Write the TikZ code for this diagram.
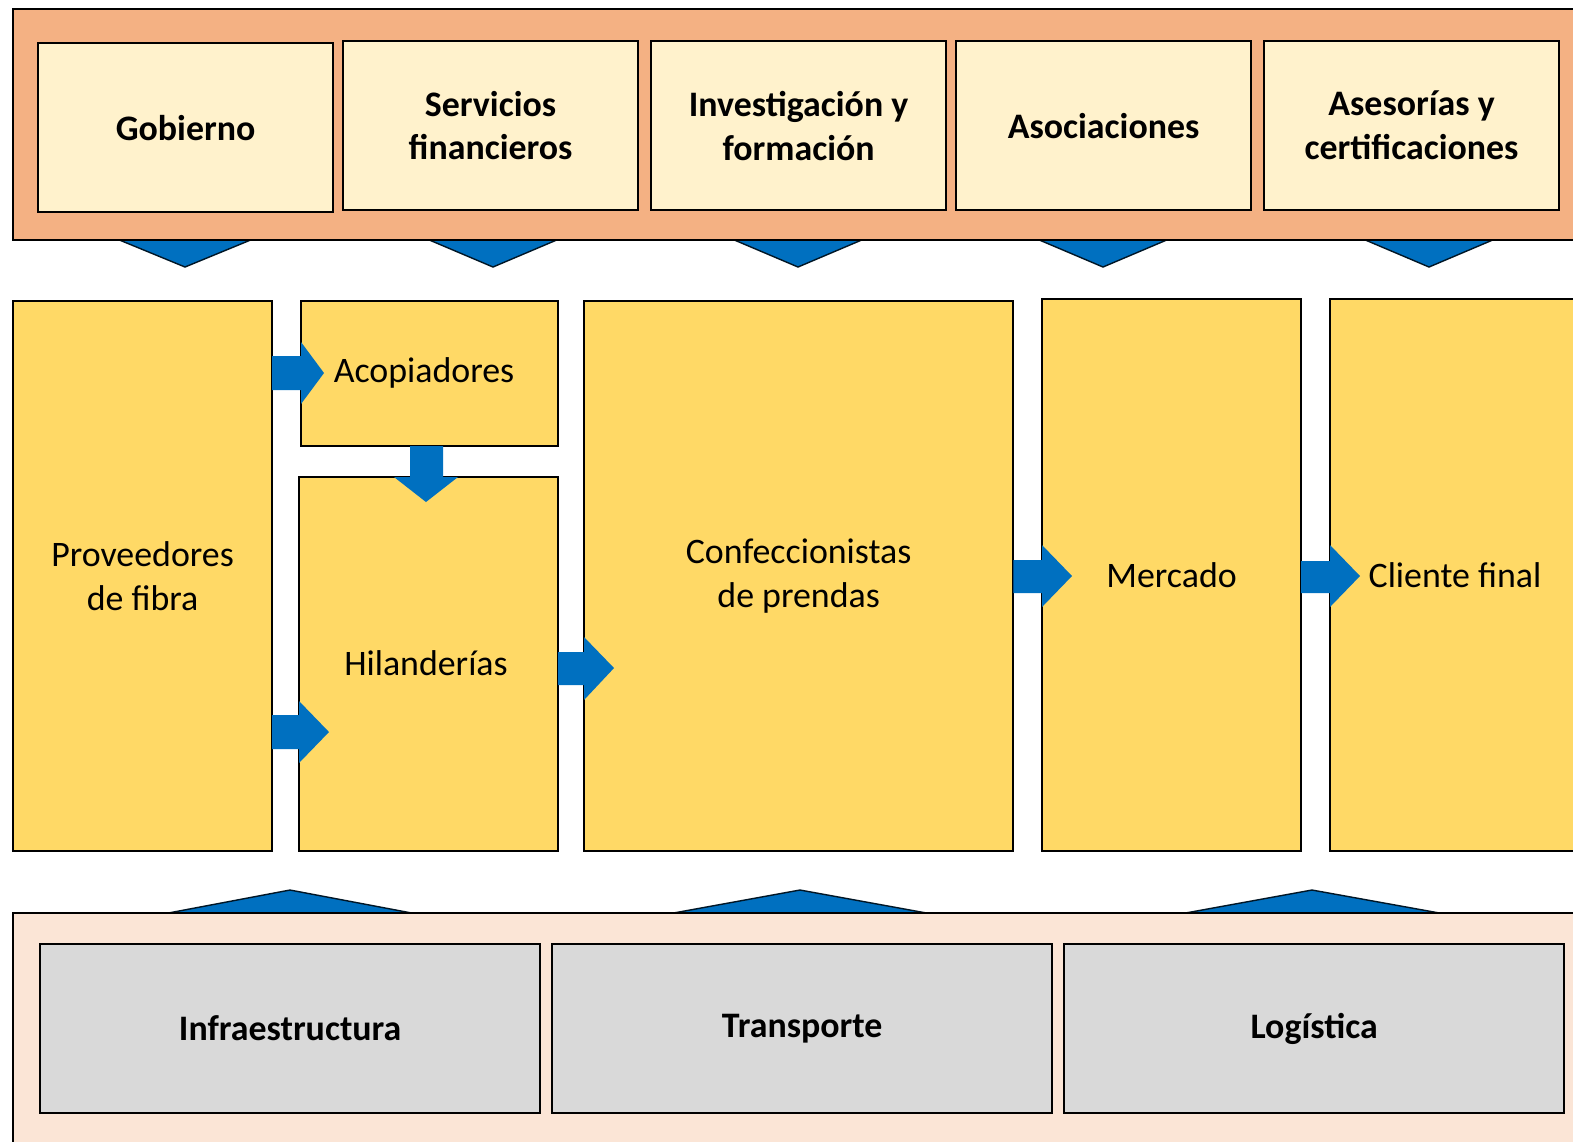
\documentclass[tikz,border=0pt]{standalone}
\usepackage{fontspec}
\setmainfont{Carlito}
\definecolor{bandtop}{HTML}{F4B183}
\definecolor{bandbot}{HTML}{FBE5D6}
\definecolor{topbox}{HTML}{FFF2CC}
\definecolor{midbox}{HTML}{FFD966}
\definecolor{botbox}{HTML}{D9D9D9}
\definecolor{arrblue}{HTML}{0070C0}
\begin{document}
\begin{tikzpicture}[x=0.01cm,y=-0.01cm,
  every node/.style={inner sep=0pt,outer sep=0pt,font=\fontsize{10.2}{12.5}\selectfont,align=center},
  bx/.style={draw=black,line width=0.6pt},
  band/.style={draw=black,line width=0.6pt},
  arr/.style={fill=arrblue},
  tri/.style={fill=arrblue,draw=black!80!arrblue,line width=0.4pt}]
\clip (0,0) rectangle (1573,1141);
\fill[white] (0,0) rectangle (1573,1141);
% top triangles (drawn under band)
\foreach \c/\l/\r in {185/117/253, 493/427/559, 798/732/864, 1103/1037/1169, 1429/1363/1495}
  \draw[tri] (\l,239) -- (\r,239) -- (\c,267) -- cycle;
% bottom triangles
\foreach \c/\l/\r in {290/163/417, 800/668/932, 1312/1180/1445}
  \draw[tri] (\l,914) -- (\c,890) -- (\r,914) -- cycle;
% bands
\node[band,fill=bandtop,minimum width=15.80cm,minimum height=2.31cm,anchor=north west] (topband) at (13,9) {};
\node[band,fill=bandbot,minimum width=15.80cm,minimum height=2.60cm,anchor=north west] (botband) at (13,913) {};
% top boxes
\node[bx,fill=topbox,minimum width=2.95cm,minimum height=1.69cm,anchor=north west] (gob) at (38,43) {\bfseries Gobierno};
\node[bx,fill=topbox,minimum width=2.95cm,minimum height=1.69cm,anchor=north west] (serv) at (343,41) {\bfseries Servicios\\\bfseries financieros};
\node[bx,fill=topbox,minimum width=2.95cm,minimum height=1.69cm,anchor=north west] (inv) at (651,41) {\bfseries Investigación y\\\bfseries formación};
\node[bx,fill=topbox,minimum width=2.95cm,minimum height=1.69cm,anchor=north west] (asoc) at (956,41) {\bfseries Asociaciones};
\node[bx,fill=topbox,minimum width=2.95cm,minimum height=1.69cm,anchor=north west] (ases) at (1264,41) {\bfseries Asesorías y\\\bfseries certificaciones};
% middle boxes
\node[bx,fill=midbox,minimum width=2.59cm,minimum height=5.50cm,anchor=north west] (prov) at (13,301) {Proveedores\\de fibra};
\node[bx,fill=midbox,minimum width=2.57cm,minimum height=1.45cm,anchor=north west] (acop) at (301,301) {};
\node at (424,373) {Acopiadores};
\node[bx,fill=midbox,minimum width=2.59cm,minimum height=3.74cm,anchor=north west] (hil) at (299,477) {};
\node at (426,663) {Hilanderías};
\node[bx,fill=midbox,minimum width=4.29cm,minimum height=5.50cm,anchor=north west] (conf) at (584,301) {Confeccionistas\\de prendas};
\node[bx,fill=midbox,minimum width=2.59cm,minimum height=5.52cm,anchor=north west] (merc) at (1042,299) {Mercado};
\node[bx,fill=midbox,minimum width=2.60cm,minimum height=5.52cm,anchor=north west] (cli) at (1330,299) {};
\node at (1455,575) {Cliente final};
% bottom boxes
\node[bx,fill=botbox,minimum width=5.00cm,minimum height=1.69cm,anchor=north west] (infra) at (40,944) {\bfseries Infraestructura};
\node[bx,fill=botbox,minimum width=5.00cm,minimum height=1.69cm,anchor=north west] (trans) at (552,944) {\bfseries Transporte};
\node[bx,fill=botbox,minimum width=5.00cm,minimum height=1.69cm,anchor=north west] (log) at (1064,944) {\bfseries Logística};
% block arrows
% prov -> acop
\fill[arr] (prov.east |- 0,356) -- (acop.west |- 0,356) -- (acop.west |- 0,342) -- (324,373) -- (acop.west |- 0,404) -- (acop.west |- 0,390) -- (prov.east |- 0,390) -- cycle;
% prov -> hil
\fill[arr] (prov.east |- 0,715) -- (hil.west |- 0,715) -- (hil.west |- 0,701) -- (329,732) -- (hil.west |- 0,763) -- (hil.west |- 0,749) -- (prov.east |- 0,749) -- cycle;
% acop -> hil
\fill[arr] (410,0 |- acop.south) -- (410,0 |- hil.north) -- (394,0 |- hil.north) -- (426,502) -- (458,0 |- hil.north) -- (443,0 |- hil.north) -- (443,0 |- acop.south) -- cycle;
% hil -> conf
\fill[arr] (hil.east |- 0,652) -- (conf.west |- 0,652) -- (conf.west |- 0,637) -- (614,668) -- (conf.west |- 0,700) -- (conf.west |- 0,685) -- (hil.east |- 0,685) -- cycle;
% conf -> merc
\fill[arr] (conf.east |- 0,560) -- (merc.west |- 0,560) -- (merc.west |- 0,545) -- (1072,576) -- (merc.west |- 0,607) -- (merc.west |- 0,593) -- (conf.east |- 0,593) -- cycle;
% merc -> cli
\fill[arr] (merc.east |- 0,561) -- (cli.west |- 0,561) -- (cli.west |- 0,545) -- (1360,576) -- (cli.west |- 0,607) -- (cli.west |- 0,593) -- (merc.east |- 0,593) -- cycle;
\end{tikzpicture}
\end{document}
